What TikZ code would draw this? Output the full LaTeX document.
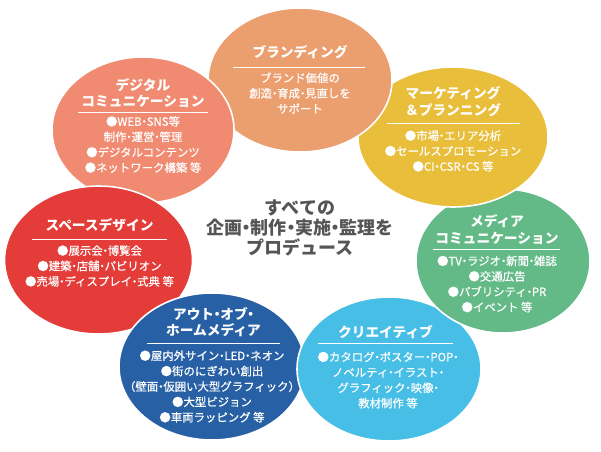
\documentclass[tikz,border=0pt]{standalone}
\usepackage{fontspec}
\newfontfamily\jp{Noto Sans CJK JP}
\newfontfamily\jpm[FakeBold=0.6]{Noto Sans CJK JP}
\definecolor{cBrand}{RGB}{236,159,110}
\definecolor{cMkt}{RGB}{233,190,58}
\definecolor{cDigi}{RGB}{240,139,113}
\definecolor{cSpace}{RGB}{228,61,57}
\definecolor{cMedia}{RGB}{99,186,135}
\definecolor{cOOH}{RGB}{40,96,165}
\definecolor{cCrea}{RGB}{70,190,230}
\definecolor{cCore}{RGB}{85,85,85}
\newcommand\jdot{\makebox[0.45em][c]{・}}
\begin{document}
\begin{tikzpicture}[x=1pt,y=-1pt,
  blob/.style={draw=white,line width=1.6pt},
  ttl/.style={text=white,align=center,inner sep=0pt,font=\jp\bfseries\fontsize{13.7}{16.5}\selectfont},
  bdy/.style={text=white,align=center,inner sep=0pt,font=\jpm\fontsize{11.4}{15.4}\selectfont},
  divider/.style={draw=white,line width=0.8pt},
  core/.style={text=cCore,align=center,inner sep=0pt,font=\jp\bfseries\fontsize{18}{20}\selectfont}]
\fill[white] (0,0) rectangle (601,451);
\useasboundingbox (0,0) rectangle (601,451);
% shapes (cyclic overlap)
\path[blob,fill=cBrand] (300,80) ellipse [x radius=92,y radius=72];
\path[blob,fill=cDigi] (143,130) ellipse [x radius=91,y radius=73];
\path[blob,fill=cSpace] (98.5,260) ellipse [x radius=94,y radius=74];
\path[blob,fill=cOOH] (212,366.5) ellipse [x radius=93,y radius=73.5];
\path[blob,fill=cCrea] (389,369) ellipse [x radius=92,y radius=72];
\path[blob,fill=cMedia] (503,261) ellipse [x radius=87,y radius=72];
\path[blob,fill=cMkt] (453,137) ellipse [x radius=95,y radius=70];
\begin{scope}
  \clip (300,0) rectangle (601,200);
  \path[blob,fill=cBrand] (300,80) ellipse [x radius=92,y radius=72];
\end{scope}
% Branding
\node[ttl] (brandT) at (300,52) {ブランディング};
\draw[divider] (233,67) -- (365,67);
\node[bdy] (brandB) at (300,93) {ブランド価値の\\創造\jdot 育成\jdot 見直しを\\サポート};
% Marketing
\node[ttl] (mktT) at (453,101.5) {マーケティング\\＆プランニング};
\draw[divider] (387,123) -- (520,123);
\node[bdy] (mktB) at (453,151) {●市場\jdot エリア分析\\●セールスプロモーション\\●CI\jdot CSR\jdot CS 等};
% Digital
\node[ttl] (digiT) at (143,93) {デジタル\\コミュニケーション};
\draw[divider] (78,112) -- (208,112);
\node[bdy] (digiB) at (143,144.5) {●WEB\jdot SNS等\\制作\jdot 運営\jdot 管理\\●デジタルコンテンツ\\●ネットワーク構築 等};
% Space design
\node[ttl] (spaceT) at (99.5,225) {スペースデザイン};
\draw[divider] (32,239) -- (167,239);
\node[bdy] (spaceB) at (99.5,266) {●展示会\jdot 博覧会\\●建築\jdot 店舗\jdot パビリオン\\●売場\jdot ディスプレイ\jdot 式典 等};
% Media
\node[ttl] (mediaT) at (497,229.5) {メディア\\コミュニケーション};
\draw[divider] (433,249) -- (560,249);
\node[bdy] (mediaB) at (497,284) {●TV\jdot ラジオ\jdot 新聞\jdot 雑誌\\●交通広告\\●パブリシティ\jdot PR\\●イベント 等};
% Out of home
\node[ttl] (oohT) at (213.5,322) {アウト\jdot オブ\jdot\\ホームメディア};
\draw[divider] (147,343) -- (280,343);
\node[bdy] (oohB) at (212,386.5) {●屋内外サイン\jdot LED\jdot ネオン\\●街のにぎわい創出\\（壁面\jdot 仮囲い大型グラフィック）\\●大型ビジョン\\●車両ラッピング 等};
% Creative
\node[ttl] (creaT) at (385.5,332) {クリエイティブ};
\draw[divider] (318,343) -- (453,343);
\node[bdy] (creaB) at (388,380) {●カタログ\jdot ポスター\jdot POP\jdot\\ノベルティ\jdot イラスト\jdot\\グラフィック\jdot 映像\jdot\\教材制作 等};
% Centre
\node[core] (core) at (300,228) {すべての\\企画\jdot 制作\jdot 実施\jdot 監理を\\プロデュース};
\end{tikzpicture}
\end{document}
